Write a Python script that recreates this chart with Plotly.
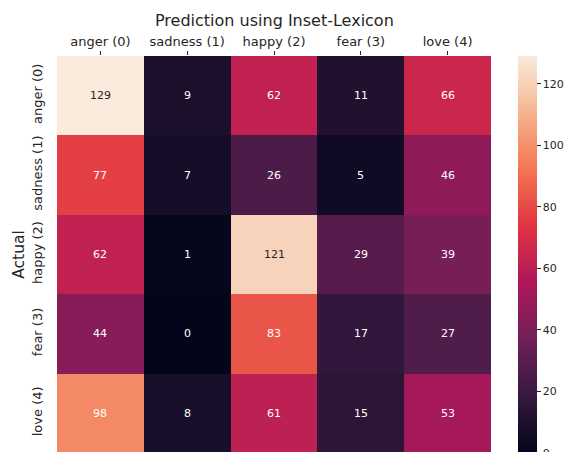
import plotly.graph_objects as go

labels = ["anger (0)", "sadness (1)", "happy (2)", "fear (3)", "love (4)"]
matrix = [
    [129, 9, 62, 11, 66],
    [77, 7, 26, 5, 46],
    [62, 1, 121, 29, 39],
    [44, 0, 83, 17, 27],
    [98, 8, 61, 15, 53],
]
cbar_ticks = [0, 20, 40, 60, 80, 100, 120]

rocket_stops = [
    (0.0, "#03051a"),
    (1 / 7, "#35193e"),
    (2 / 7, "#701f57"),
    (3 / 7, "#ad1759"),
    (4 / 7, "#e13342"),
    (5 / 7, "#f37651"),
    (6 / 7, "#f6b48f"),
    (1.0, "#faebdd"),
]
colorscale = [[p, c] for p, c in rocket_stops]


def hex2rgb(h):
    h = h.lstrip("#")
    return tuple(int(h[i:i + 2], 16) / 255 for i in (0, 2, 4))


def interp(t):
    for (p0, c0), (p1, c1) in zip(rocket_stops[:-1], rocket_stops[1:]):
        if p0 <= t <= p1:
            f = (t - p0) / (p1 - p0) if p1 > p0 else 0
            a, b = hex2rgb(c0), hex2rgb(c1)
            return tuple(a[i] + (b[i] - a[i]) * f for i in range(3))
    return hex2rgb(rocket_stops[-1][1])


def lum(rgb):
    out = []
    for c in rgb:
        out.append(c / 12.92 if c <= 0.03928 else ((c + 0.055) / 1.055) ** 2.4)
    return 0.2126 * out[0] + 0.7152 * out[1] + 0.0722 * out[2]


vmin = min(min(r) for r in matrix)
vmax = max(max(r) for r in matrix)

# page body has an 8px margin, so the figure is laid out 8px up/left
L, T, PW, PH = 49, 48, 434, 397
FONT = "DejaVu Sans"
INK = "#262626"

fig = go.Figure()
fig.add_trace(go.Heatmap(
    z=matrix, x=labels, y=labels,
    colorscale=colorscale, zmin=vmin, zmax=vmax,
    xgap=0, ygap=0,
    colorbar=dict(
        x=(510 - L) / PW, xanchor="left", xpad=0,
        y=0.5, yanchor="middle", ypad=0,
        len=1, lenmode="fraction", thickness=19,
        outlinewidth=0,
        tickvals=cbar_ticks, ticks="outside", ticklen=4, tickwidth=1.2,
        tickcolor=INK,
        tickfont=dict(family=FONT, size=11, color=INK),
    ),
    hoverinfo="skip",
))

for i, row in enumerate(matrix):
    for j, v in enumerate(row):
        t = (v - vmin) / (vmax - vmin)
        col = INK if lum(interp(t)) > 0.408 else "white"
        fig.add_annotation(x=labels[j], y=labels[i], text=str(v), showarrow=False,
                           font=dict(family=FONT, size=11, color=col))

fig.add_annotation(x=0.5, y=1 + (T - 12) / PH, xref="paper", yref="paper",
                   text="Prediction using Inset-Lexicon", showarrow=False,
                   xanchor="center", yanchor="middle",
                   font=dict(family=FONT, size=16, color=INK))

fig.update_layout(
    width=574, height=452,
    margin=dict(l=L, r=574 - L - PW, t=T, b=452 - T - PH, autoexpand=False),
    paper_bgcolor="white", plot_bgcolor="white",
    xaxis=dict(side="top", ticks="outside", ticklen=4, tickwidth=1.2, tickcolor=INK,
               tickfont=dict(family=FONT, size=13, color=INK),
               showgrid=False, zeroline=False, showline=False, tickangle=0, automargin=False),
    yaxis=dict(autorange="reversed", ticks="outside", ticklen=9, tickwidth=1,
               tickcolor="rgba(0,0,0,0)", tickangle=-90,
               tickfont=dict(family=FONT, size=13, color=INK),
               title=dict(text="Actual", font=dict(family=FONT, size=15.5, color=INK),
                          standoff=1),
               showgrid=False, zeroline=False, showline=False, automargin=False),
)

fig.write_html("out.html")
